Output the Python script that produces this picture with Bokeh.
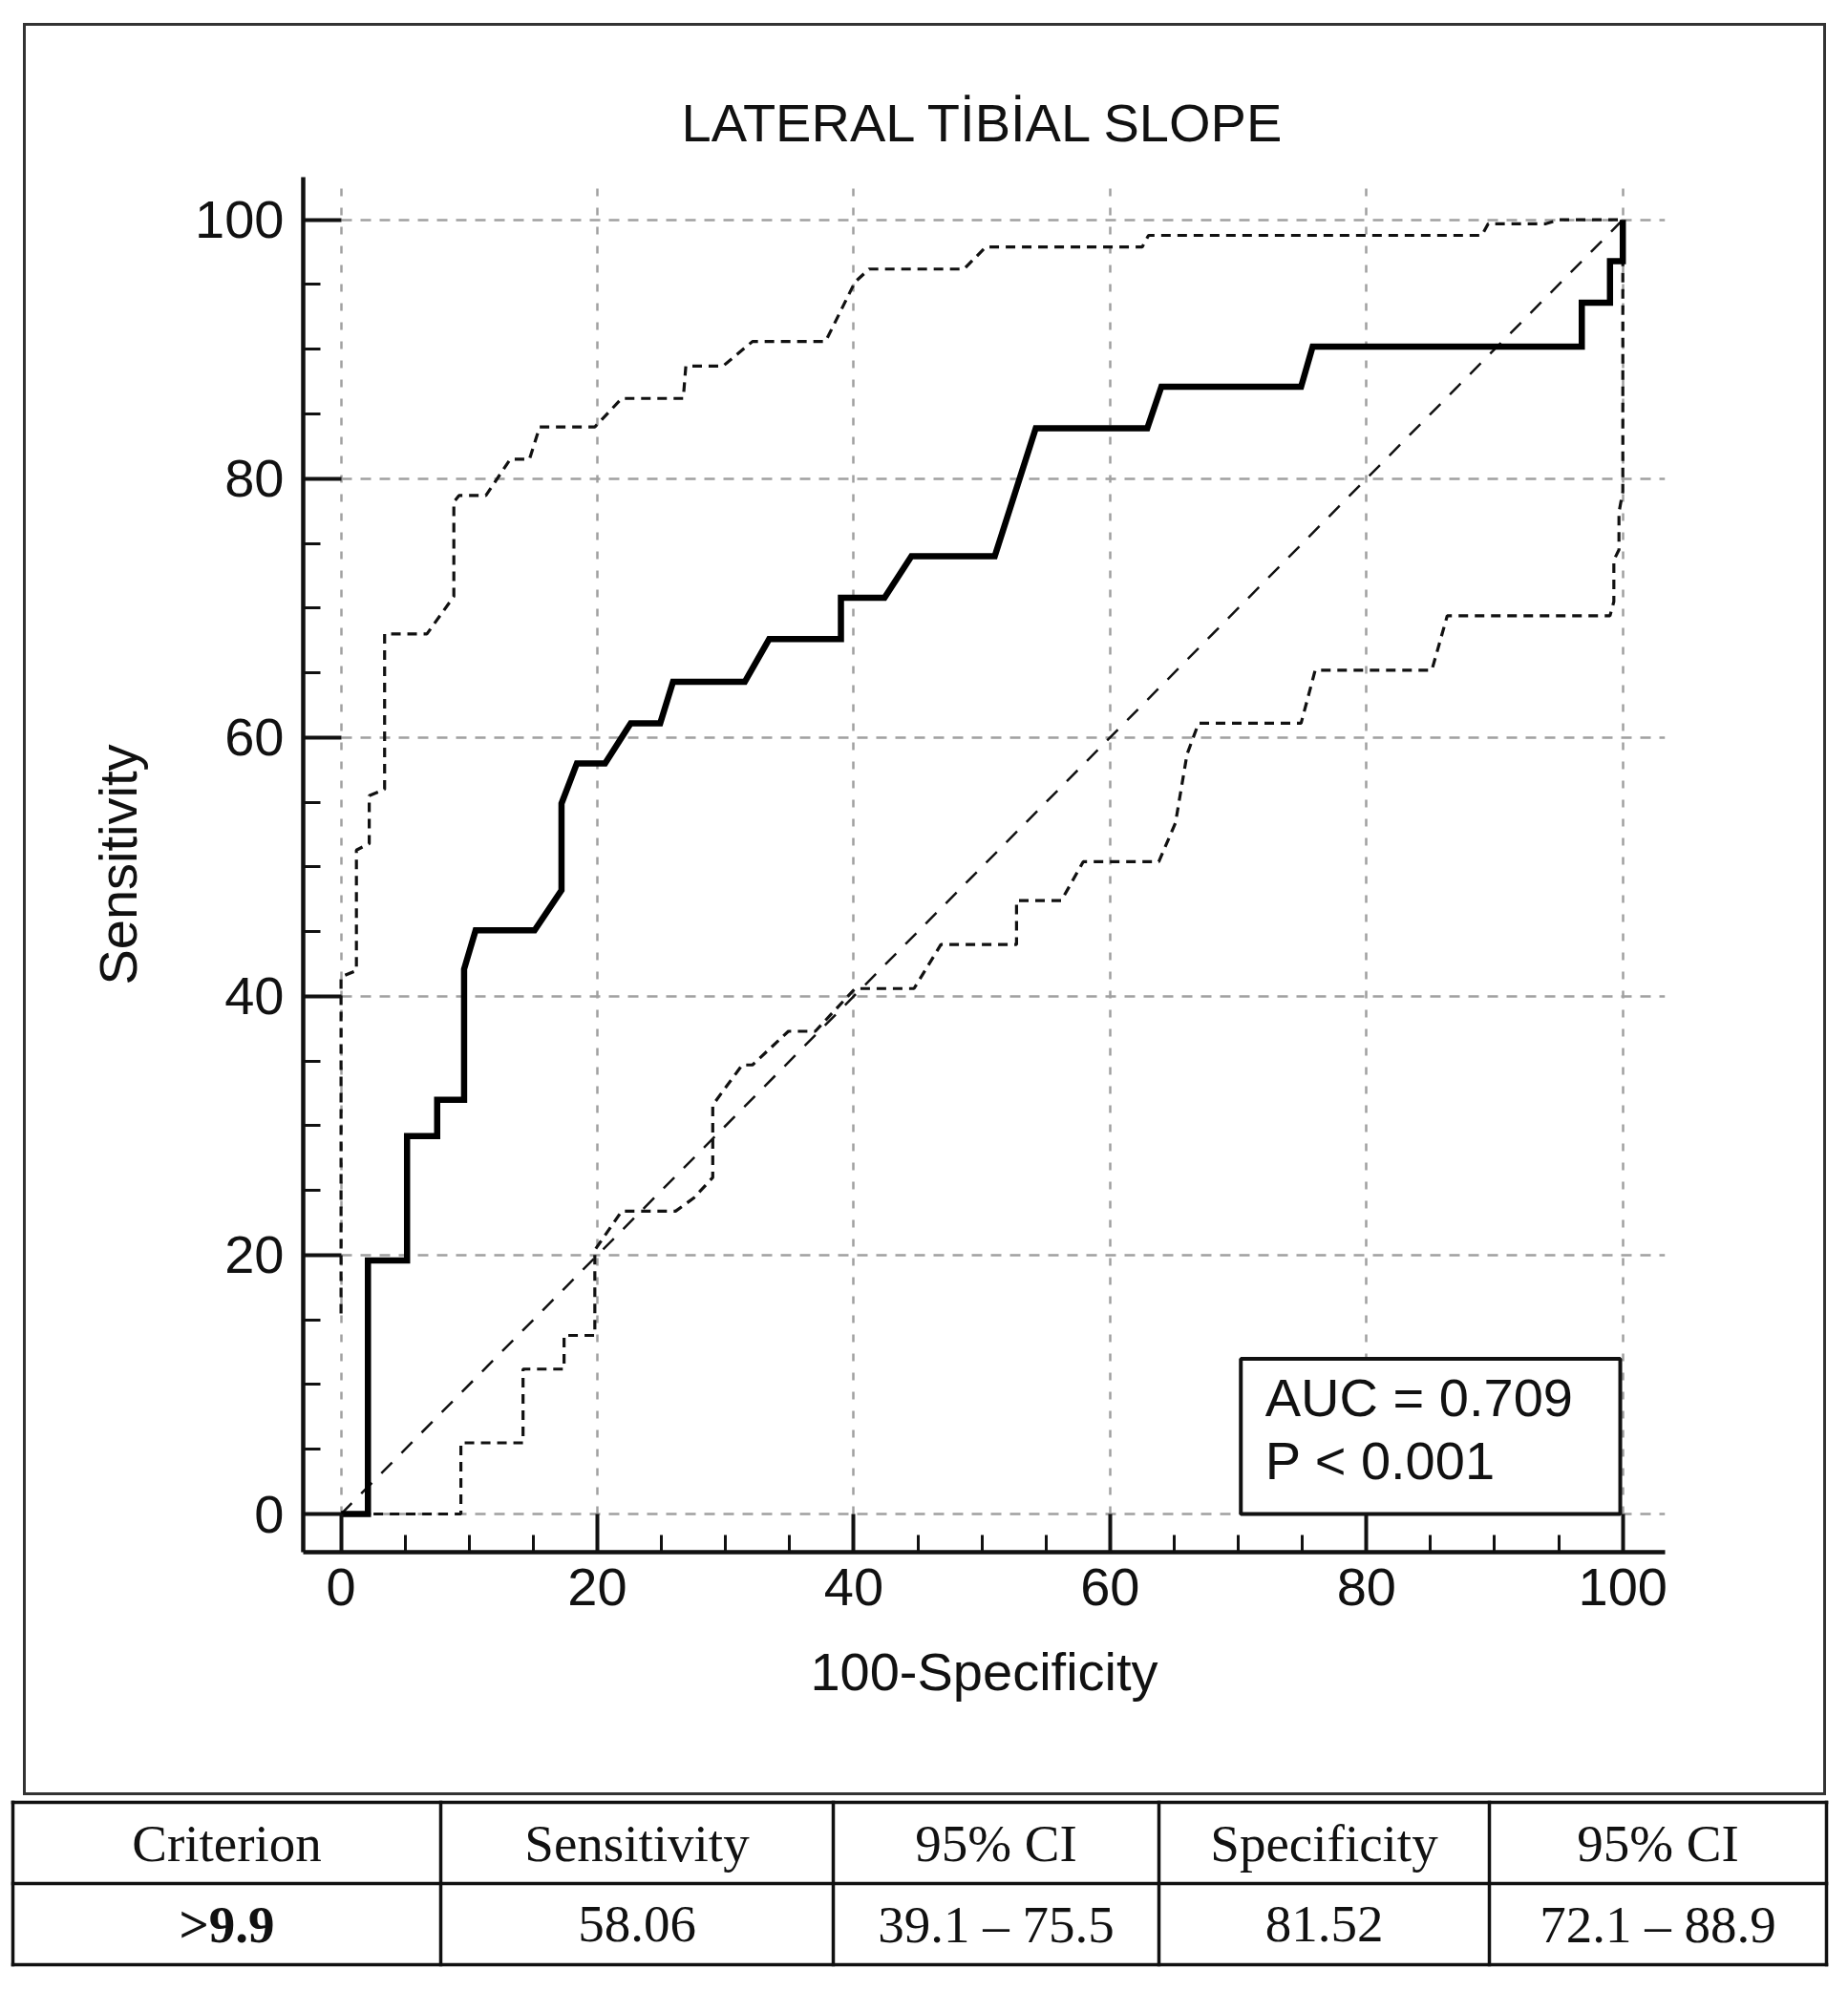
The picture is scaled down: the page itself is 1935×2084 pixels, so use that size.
from bokeh.plotting import figure
from bokeh.models import Range1d, FixedTicker, BoxAnnotation, Label
from bokeh.embed import file_html
from bokeh.resources import INLINE
from bokeh.core.properties import value

# ---------------- data ----------------
title_text = "LATERAL TİBİAL SLOPE"
x_label = "100-Specificity"
y_label = "Sensitivity"
major_ticks = [0, 20, 40, 60, 80, 100]
minor_ticks = [0, 5, 10, 15, 20, 25, 30, 35, 40, 45, 50, 55, 60, 65, 70, 75, 80, 85, 90, 95, 100]

roc_x = [0, 2.1, 2.1, 5.15, 5.15, 7.5, 7.5, 9.6, 9.6, 10.5, 15.1, 17.2, 17.2, 18.4, 20.6,
         22.6, 24.9, 25.9, 31.5, 33.4, 39.0, 39.0, 42.4, 44.5, 51.0, 54.2, 62.9, 64.0,
         74.9, 75.8, 96.8, 96.8, 99.0, 99.0, 100, 100]
roc_y = [0, 0, 19.6, 19.6, 29.2, 29.2, 32.0, 32.0, 42.1, 45.1, 45.1, 48.2, 54.9, 58.0, 58.0,
         61.1, 61.1, 64.3, 64.3, 67.6, 67.6, 70.8, 70.8, 74.0, 74.0, 83.9, 83.9, 87.1,
         87.1, 90.2, 90.2, 93.6, 93.6, 96.8, 96.8, 100]

upper_x = [0, 0, 1.2, 1.2, 2.2, 2.2, 3.4, 3.4, 6.7, 8.8, 8.8, 9.2, 11.3, 13.2, 14.7, 15.5,
           19.8, 21.9, 26.7, 26.9, 29.8, 32.1, 37.8, 40.1, 41.2, 48.6, 50.3, 62.5, 63.0,
           89.0, 89.5, 94.0, 95.0, 100]
upper_y = [15.5, 41.5, 42.0, 51.3, 51.8, 55.5, 56.0, 68.0, 68.0, 70.9, 78.2, 78.7, 78.7,
           81.5, 81.5, 84.0, 84.0, 86.2, 86.2, 88.7, 88.7, 90.6, 90.6, 95.2, 96.2, 96.2,
           97.9, 97.9, 98.8, 98.8, 99.7, 99.7, 100, 100]

lower_x = [0, 9.35, 9.35, 14.2, 14.2, 17.4, 17.4, 19.8, 19.8, 21.9, 26.1, 27.5, 29.0, 29.0,
           31.3, 32.1, 34.9, 37.0, 40.1, 44.7, 46.8, 52.7, 52.7, 56.2, 57.9, 63.8, 65.1,
           66.0, 66.9, 74.9, 76.0, 85.1, 86.3, 99.0, 99.3, 99.3, 99.7, 99.7, 100, 100]
lower_y = [0, 0, 5.5, 5.5, 11.2, 11.2, 13.8, 13.8, 20.4, 23.4, 23.4, 24.4, 26.0, 31.6,
           34.7, 34.7, 37.3, 37.3, 40.6, 40.6, 44.0, 44.0, 47.4, 47.4, 50.4, 50.4, 53.4,
           58.7, 61.1, 61.1, 65.2, 65.2, 69.4, 69.4, 70.5, 73.7, 74.5, 77.4, 79.0, 100]

diag_x = [0, 100]
diag_y = [0, 100]

auc_value = 0.709
p_text = "P < 0.001"

table_header = ["Criterion", "Sensitivity", "95% CI", "Specificity", "95% CI"]
table_values = [">9.9", "58.06", "39.1 – 75.5", "81.52", "72.1 – 88.9"]

# ---------------- chart ----------------
SANS = "Liberation Sans"
FS = "56px"

p = figure(width=1888, height=1856,
           x_range=Range1d(-2.95, 103.3), y_range=Range1d(-2.95, 103.3),
           output_backend="svg", toolbar_location=None,
           min_border_left=290, min_border_right=172,
           min_border_top=158, min_border_bottom=258)
p.outline_line_color = None
p.styles = {"border": "3px solid #333333", "box-sizing": "border-box"}
p.margin = (24, 0, 0, 24)

p.title.text = title_text
p.title.align = "center"
p.title.text_font = SANS
p.title.text_font_size = FS
p.title.text_font_style = "normal"
p.title.text_color = "#111111"
p.title.standoff = 52

for ax in (p.xaxis[0], p.yaxis[0]):
    ax.ticker = FixedTicker(ticks=major_ticks, minor_ticks=minor_ticks)
    ax.axis_line_width = 4.5
    ax.axis_line_color = "#111111"
    ax.major_tick_in = 40
    ax.major_tick_out = 0
    ax.major_tick_line_width = 4
    ax.major_tick_line_color = "#111111"
    ax.minor_tick_in = 18
    ax.minor_tick_out = 0
    ax.minor_tick_line_width = 3
    ax.minor_tick_line_color = "#111111"
    ax.major_label_text_font = SANS
    ax.major_label_text_font_size = FS
    ax.major_label_text_color = "#111111"
    ax.axis_label_text_font = SANS
    ax.axis_label_text_font_size = FS
    ax.axis_label_text_font_style = "normal"
    ax.axis_label_text_color = "#111111"

p.xaxis.axis_label = x_label
p.yaxis.axis_label = y_label
p.xaxis.major_label_standoff = 17
p.yaxis.major_label_standoff = 20
p.xaxis.axis_label_standoff = 35
p.yaxis.axis_label_standoff = 46

p.xgrid.ticker = FixedTicker(ticks=major_ticks)
p.ygrid.ticker = FixedTicker(ticks=major_ticks)
p.xgrid.grid_line_color = "#a0a0a0"
p.ygrid.grid_line_color = "#a0a0a0"
p.xgrid.grid_line_width = 2.5
p.ygrid.grid_line_width = 2.5
p.xgrid.grid_line_dash = "8 12"
p.ygrid.grid_line_dash = "11 9"

p.line(diag_x, diag_y, line_color="#111111", line_width=2.5, line_dash="16 14")
p.line(upper_x, upper_y, line_color="#111111", line_width=3.2, line_dash="10 7")
p.line(lower_x, lower_y, line_color="#111111", line_width=3.2, line_dash="10 7")
p.line(roc_x, roc_y, line_color="#000000", line_width=6.5, line_join="miter")

box = BoxAnnotation(left=70.2, right=99.8, bottom=0, top=12,
                    fill_color="white", fill_alpha=1.0,
                    line_color="#111111", line_width=4, line_alpha=1.0)
p.add_layout(box)
p.add_layout(Label(x=72.1, y=9.0, text=f"AUC = {auc_value:.3f}", text_font=SANS,
                   text_font_size=FS, text_baseline="middle", text_color="#111111"))
p.add_layout(Label(x=72.1, y=4.1, text=p_text, text_font=SANS,
                   text_font_size=FS, text_baseline="middle", text_color="#111111"))

# ---------------- table ----------------
TW, TH = 1914, 180
col_edges = [8, 456, 867, 1208, 1554, 1907]
row_edges = [3, 88, 173]
t = figure(width=TW, height=TH, x_range=Range1d(0, TW), y_range=Range1d(TH, 0),
           output_backend="svg", toolbar_location=None,
           min_border=0, min_border_left=0, min_border_right=0,
           min_border_top=0, min_border_bottom=0)
t.axis.visible = False
t.grid.visible = False
t.outline_line_color = None
t.margin = (4, 0, 0, 5)

xs0 = col_edges + [col_edges[0]] * len(row_edges)
xs1 = col_edges + [col_edges[-1]] * len(row_edges)
ys0 = [row_edges[0]] * len(col_edges) + row_edges
ys1 = [row_edges[-1]] * len(col_edges) + row_edges
t.segment(x0=xs0, y0=ys0, x1=xs1, y1=ys1, line_color="#111111", line_width=3.5,
          line_cap="square")

centers = [(col_edges[i] + col_edges[i + 1]) / 2 for i in range(len(table_header))]
row_mid = [(row_edges[0] + row_edges[1]) / 2, (row_edges[1] + row_edges[2]) / 2]
SERIF = "Liberation Serif"
TFS = "55px"
t.text(x=centers, y=[row_mid[0]] * len(centers), text=table_header,
       text_font=value(SERIF), text_font_size=value(TFS), text_align="center",
       text_baseline="middle", text_color="#111111")
t.text(x=centers[1:], y=[row_mid[1]] * (len(centers) - 1), text=table_values[1:],
       text_font=value(SERIF), text_font_size=value(TFS), text_align="center",
       text_baseline="middle", text_color="#111111")
t.text(x=centers[:1], y=[row_mid[1]], text=table_values[:1],
       text_font=value(SERIF), text_font_size=value(TFS), text_font_style="bold",
       text_align="center", text_baseline="middle", text_color="#111111")

open("out.html", "w").write(file_html([p, t], INLINE))
